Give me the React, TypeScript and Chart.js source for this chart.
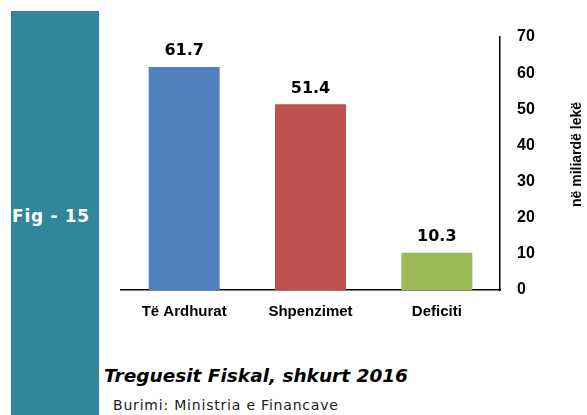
import React, { useEffect, useRef } from "react";
import { Chart, registerables } from "chart.js";

Chart.register(...registerables);

const categories = ["Të Ardhurat", "Shpenzimet", "Deficiti"];
const values = [61.7, 51.4, 10.3];
const barColors = ["#4F81BD", "#C0504D", "#9BBB59"];
const yTicks = [0, 10, 20, 30, 40, 50, 60, 70];
const axisTitle = "në miliardë lekë";
const figLabel = "Fig - 15";
const captionTitle = "Treguesit Fiskal, shkurt 2016";
const captionSource = "Burimi: Ministria e Financave";

const narrow = "'Liberation Sans Narrow', 'Arial Narrow', 'Liberation Sans', Arial, sans-serif";

export default function App() {
  const ref = useRef<HTMLCanvasElement | null>(null);

  useEffect(() => {
    if (!ref.current) return;
    const labelPlugin = {
      id: "valueLabels",
      afterDatasetsDraw(chart: any) {
        const ctx = chart.ctx;
        const meta = chart.getDatasetMeta(0);
        ctx.save();
        ctx.font = "bold 16px 'DejaVu Sans', sans-serif";
        ctx.fillStyle = "#000";
        ctx.textAlign = "center";
        ctx.textBaseline = "alphabetic";
        meta.data.forEach((bar: any, i: number) => {
          ctx.fillText(values[i].toFixed(1), bar.x, bar.y - 11.5);
        });
        // axis title, reading bottom-to-top
        const ys = chart.scales.y;
        const ca = chart.chartArea;
        ctx.translate(ys.right - 10, (ca.top + ca.bottom) / 2 - 9);
        ctx.rotate(-Math.PI / 2);
        ctx.font = `bold 14px ${narrow}`;
        ctx.textBaseline = "middle";
        ctx.fillText(axisTitle, 0, 0);
        ctx.restore();
      },
    };

    const chart = new Chart(ref.current, {
      type: "bar",
      data: {
        labels: categories,
        datasets: [
          {
            data: values,
            backgroundColor: barColors,
            borderWidth: 0,
            categoryPercentage: 1,
            barPercentage: 0.562,
          },
        ],
      },
      options: {
        animation: false,
        responsive: false,
        maintainAspectRatio: false,
        layout: { padding: { left: 121, top: 37, right: 0, bottom: 0 } },
        plugins: {
          legend: { display: false },
          tooltip: { enabled: false },
          title: { display: false },
        },
        scales: {
          x: {
            grid: { display: false, drawTicks: false },
            border: { display: true, color: "#000", width: 1.5 },
            ticks: {
              color: "#000",
              font: { family: narrow, size: 15, weight: "bold" },
              padding: 13,
              maxRotation: 0,
            },
            afterFit(scale: any) {
              scale.height = 50;
            },
          },
          y: {
            position: "right",
            min: 0,
            max: 70,
            afterBuildTicks(scale: any) {
              scale.ticks = yTicks.map((v) => ({ value: v }));
            },
            grid: { display: false, drawTicks: false },
            border: { display: true, color: "#000", width: 1.5 },
            ticks: {
              color: "#000",
              font: { family: narrow, size: 16, weight: "bold" },
              padding: 17,
            },
            afterFit(scale: any) {
              scale.width = 87;
            },
          },
        },
      },
      plugins: [labelPlugin],
    } as any);
    return () => chart.destroy();
  }, []);

  return (
    <div style={{ position: "absolute", left: 0, top: 0, width: 587, height: 415, background: "#fff", overflow: "hidden" }}>
      <div
        style={{
          position: "absolute",
          left: 11,
          top: 11,
          width: 88,
          height: 404,
          background: "#318799",
        }}
      />
      <div
        style={{
          position: "absolute",
          left: 7,
          top: 206,
          width: 88,
          textAlign: "center",
          color: "#fff",
          fontFamily: "'DejaVu Sans', sans-serif",
          fontWeight: "bold",
          fontSize: 17,
          letterSpacing: 0.7,
          lineHeight: "20px",
          whiteSpace: "nowrap",
        }}
      >
        {figLabel}
      </div>
      <canvas ref={ref} width={587} height={340} style={{ position: "absolute", left: 0, top: 0, width: 587, height: 340 }} />
      <div
        style={{
          position: "absolute",
          left: 104,
          top: 365,
          fontFamily: "'DejaVu Sans', sans-serif",
          fontWeight: "bold",
          fontStyle: "italic",
          fontSize: 18.5,
          lineHeight: "22px",
          color: "#000",
          whiteSpace: "nowrap",
        }}
      >
        {captionTitle}
      </div>
      <div
        style={{
          position: "absolute",
          left: 113,
          top: 397,
          fontFamily: "'DejaVu Sans', sans-serif",
          fontSize: 14,
          letterSpacing: 0.8,
          lineHeight: "17px",
          color: "#222",
          whiteSpace: "nowrap",
        }}
      >
        {captionSource}
      </div>
    </div>
  );
}
